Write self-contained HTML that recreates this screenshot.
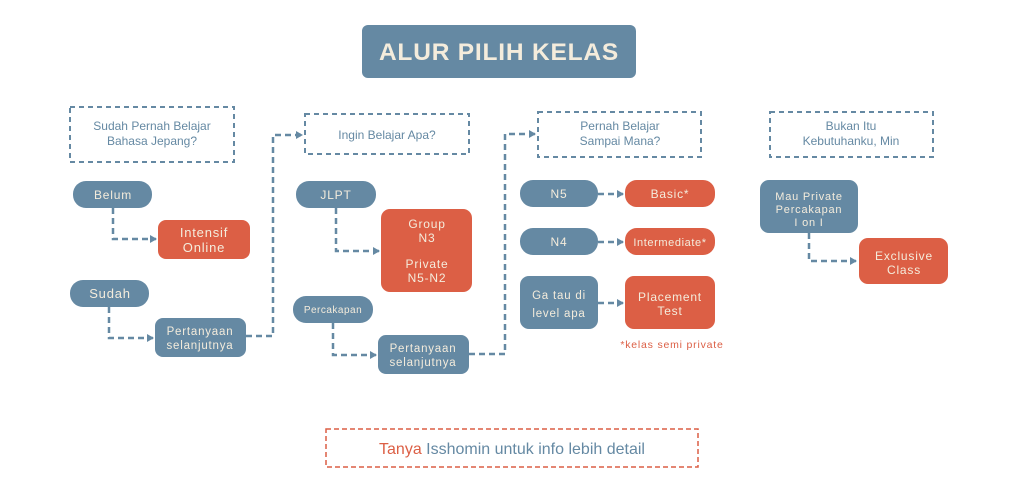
<!DOCTYPE html>
<html><head><meta charset="utf-8"><style>
html,body{margin:0;padding:0;background:#fff;}
svg{display:block;font-family:"Liberation Sans",sans-serif;}
.b{fill:#6589a3}.o{fill:#dc5f45}
.t{fill:#f4ecdc;letter-spacing:0.8px;text-anchor:middle}
.q{fill:#6589a3;text-anchor:middle}
.d{fill:none;stroke:#6589a3;stroke-width:2;stroke-dasharray:5,4}
.c{fill:none;stroke:#6589a3;stroke-width:2.5;stroke-dasharray:6,4}
</style></head><body>
<svg width="1024" height="492" viewBox="0 0 1024 492" font-size="12">
<defs><marker id="a" markerWidth="8" markerHeight="8" refX="6" refY="4" orient="auto" markerUnits="userSpaceOnUse"><path d="M0,0 L7,4 L0,8z" fill="#6589a3"/></marker></defs>
<rect x="362" y="25" width="274" height="53" rx="6" class="b"/>
<text x="499" y="60" text-anchor="middle" style="font-size:24.5px" font-weight="bold" fill="#f4ecdc" letter-spacing="0.8">ALUR PILIH KELAS</text>

<rect x="70" y="107" width="164" height="55" class="d"/>
<text class="q" x="152" y="130">Sudah Pernah Belajar</text><text class="q" x="152" y="145">Bahasa Jepang?</text>
<rect x="305" y="114" width="164" height="40" class="d"/>
<text class="q" x="387" y="139">Ingin Belajar Apa?</text>
<rect x="538" y="112" width="163" height="45" class="d"/>
<text class="q" x="620" y="130">Pernah Belajar</text><text class="q" x="620" y="145">Sampai Mana?</text>
<rect x="770" y="112" width="163" height="45" class="d"/>
<text class="q" x="851" y="130">Bukan Itu</text><text class="q" x="851" y="145">Kebutuhanku, Min</text>

<path class="c" d="M113,208 V239 H156" marker-end="url(#a)"/>
<path class="c" d="M109,307 V338 H153" marker-end="url(#a)"/>
<path class="c" d="M246,336 H273 V135 H302" marker-end="url(#a)"/>
<path class="c" d="M336,208 V251 H379" marker-end="url(#a)"/>
<path class="c" d="M333,323 V355 H376" marker-end="url(#a)"/>
<path class="c" d="M469,354 H505 V134 H535" marker-end="url(#a)"/>
<path class="c" d="M598,194 H623" marker-end="url(#a)"/>
<path class="c" d="M598,242 H623" marker-end="url(#a)"/>
<path class="c" d="M598,303 H623" marker-end="url(#a)"/>
<path class="c" d="M809,233 V261 H856" marker-end="url(#a)"/>

<rect x="73" y="181" width="79" height="27" rx="13" class="b"/><text class="t" x="113" y="199">Belum</text>
<rect x="158" y="220" width="92" height="39" rx="8" class="o"/><text class="t" x="204" y="237" style="font-size:13px">Intensif</text><text class="t" x="204" y="252" style="font-size:13px">Online</text>
<rect x="70" y="280" width="79" height="27" rx="13" class="b"/><text class="t" x="110" y="298" style="font-size:13px">Sudah</text>
<rect x="155" y="318" width="91" height="39" rx="8" class="b"/><text class="t" x="200" y="335" style="font-size:11.5px">Pertanyaan</text><text class="t" x="200" y="349" style="font-size:11.5px">selanjutnya</text>

<rect x="296" y="181" width="80" height="27" rx="13" class="b"/><text class="t" x="336" y="199">JLPT</text>
<rect x="381" y="209" width="91" height="83" rx="9" class="o"/>
<text class="t" x="427" y="228">Group</text><text class="t" x="427" y="242">N3</text><text class="t" x="427" y="268">Private</text><text class="t" x="427" y="282">N5-N2</text>
<rect x="293" y="296" width="80" height="27" rx="13" class="b"/><text class="t" x="333" y="313" style="font-size:10px;letter-spacing:0.5px">Percakapan</text>
<rect x="378" y="335" width="91" height="39" rx="8" class="b"/><text class="t" x="423" y="352" style="font-size:11.5px">Pertanyaan</text><text class="t" x="423" y="366" style="font-size:11.5px">selanjutnya</text>

<rect x="520" y="180" width="78" height="27" rx="13" class="b"/><text class="t" x="559" y="198">N5</text>
<rect x="625" y="180" width="90" height="27" rx="12" class="o"/><text class="t" x="670" y="198">Basic*</text>
<rect x="520" y="228" width="78" height="27" rx="13" class="b"/><text class="t" x="559" y="246">N4</text>
<rect x="625" y="228" width="90" height="27" rx="12" class="o"/><text class="t" x="670" y="246" style="font-size:11px;letter-spacing:0.6px">Intermediate*</text>
<rect x="520" y="276" width="78" height="53" rx="9" class="b"/><text class="t" x="559" y="299" style="font-size:11.5px">Ga tau di</text><text class="t" x="559" y="317" style="font-size:11.5px">level apa</text>
<rect x="625" y="276" width="90" height="53" rx="9" class="o"/><text class="t" x="670" y="301">Placement</text><text class="t" x="670" y="315">Test</text>
<text x="672" y="348" text-anchor="middle" style="font-size:10.5px" fill="#dc5f45" letter-spacing="0.8">*kelas semi private</text>

<rect x="760" y="180" width="98" height="53" rx="9" class="b"/><text class="t" x="809" y="200" style="font-size:11px">Mau Private</text><text class="t" x="809" y="213" style="font-size:11px">Percakapan</text><text class="t" x="809" y="226" style="font-size:11px">I on I</text>
<rect x="859" y="238" width="89" height="46" rx="9" class="o"/><text class="t" x="904" y="260" style="font-size:12px">Exclusive</text><text class="t" x="904" y="274" style="font-size:12px">Class</text>

<rect x="326" y="429" width="372" height="38" fill="none" stroke="#dc5f45" stroke-width="1.5" stroke-dasharray="5,3"/>
<text x="512" y="454" text-anchor="middle" style="font-size:16px"><tspan fill="#dc5f45">Tanya</tspan><tspan fill="#6589a3"> Isshomin untuk info lebih detail</tspan></text>
</svg>
</body></html>
